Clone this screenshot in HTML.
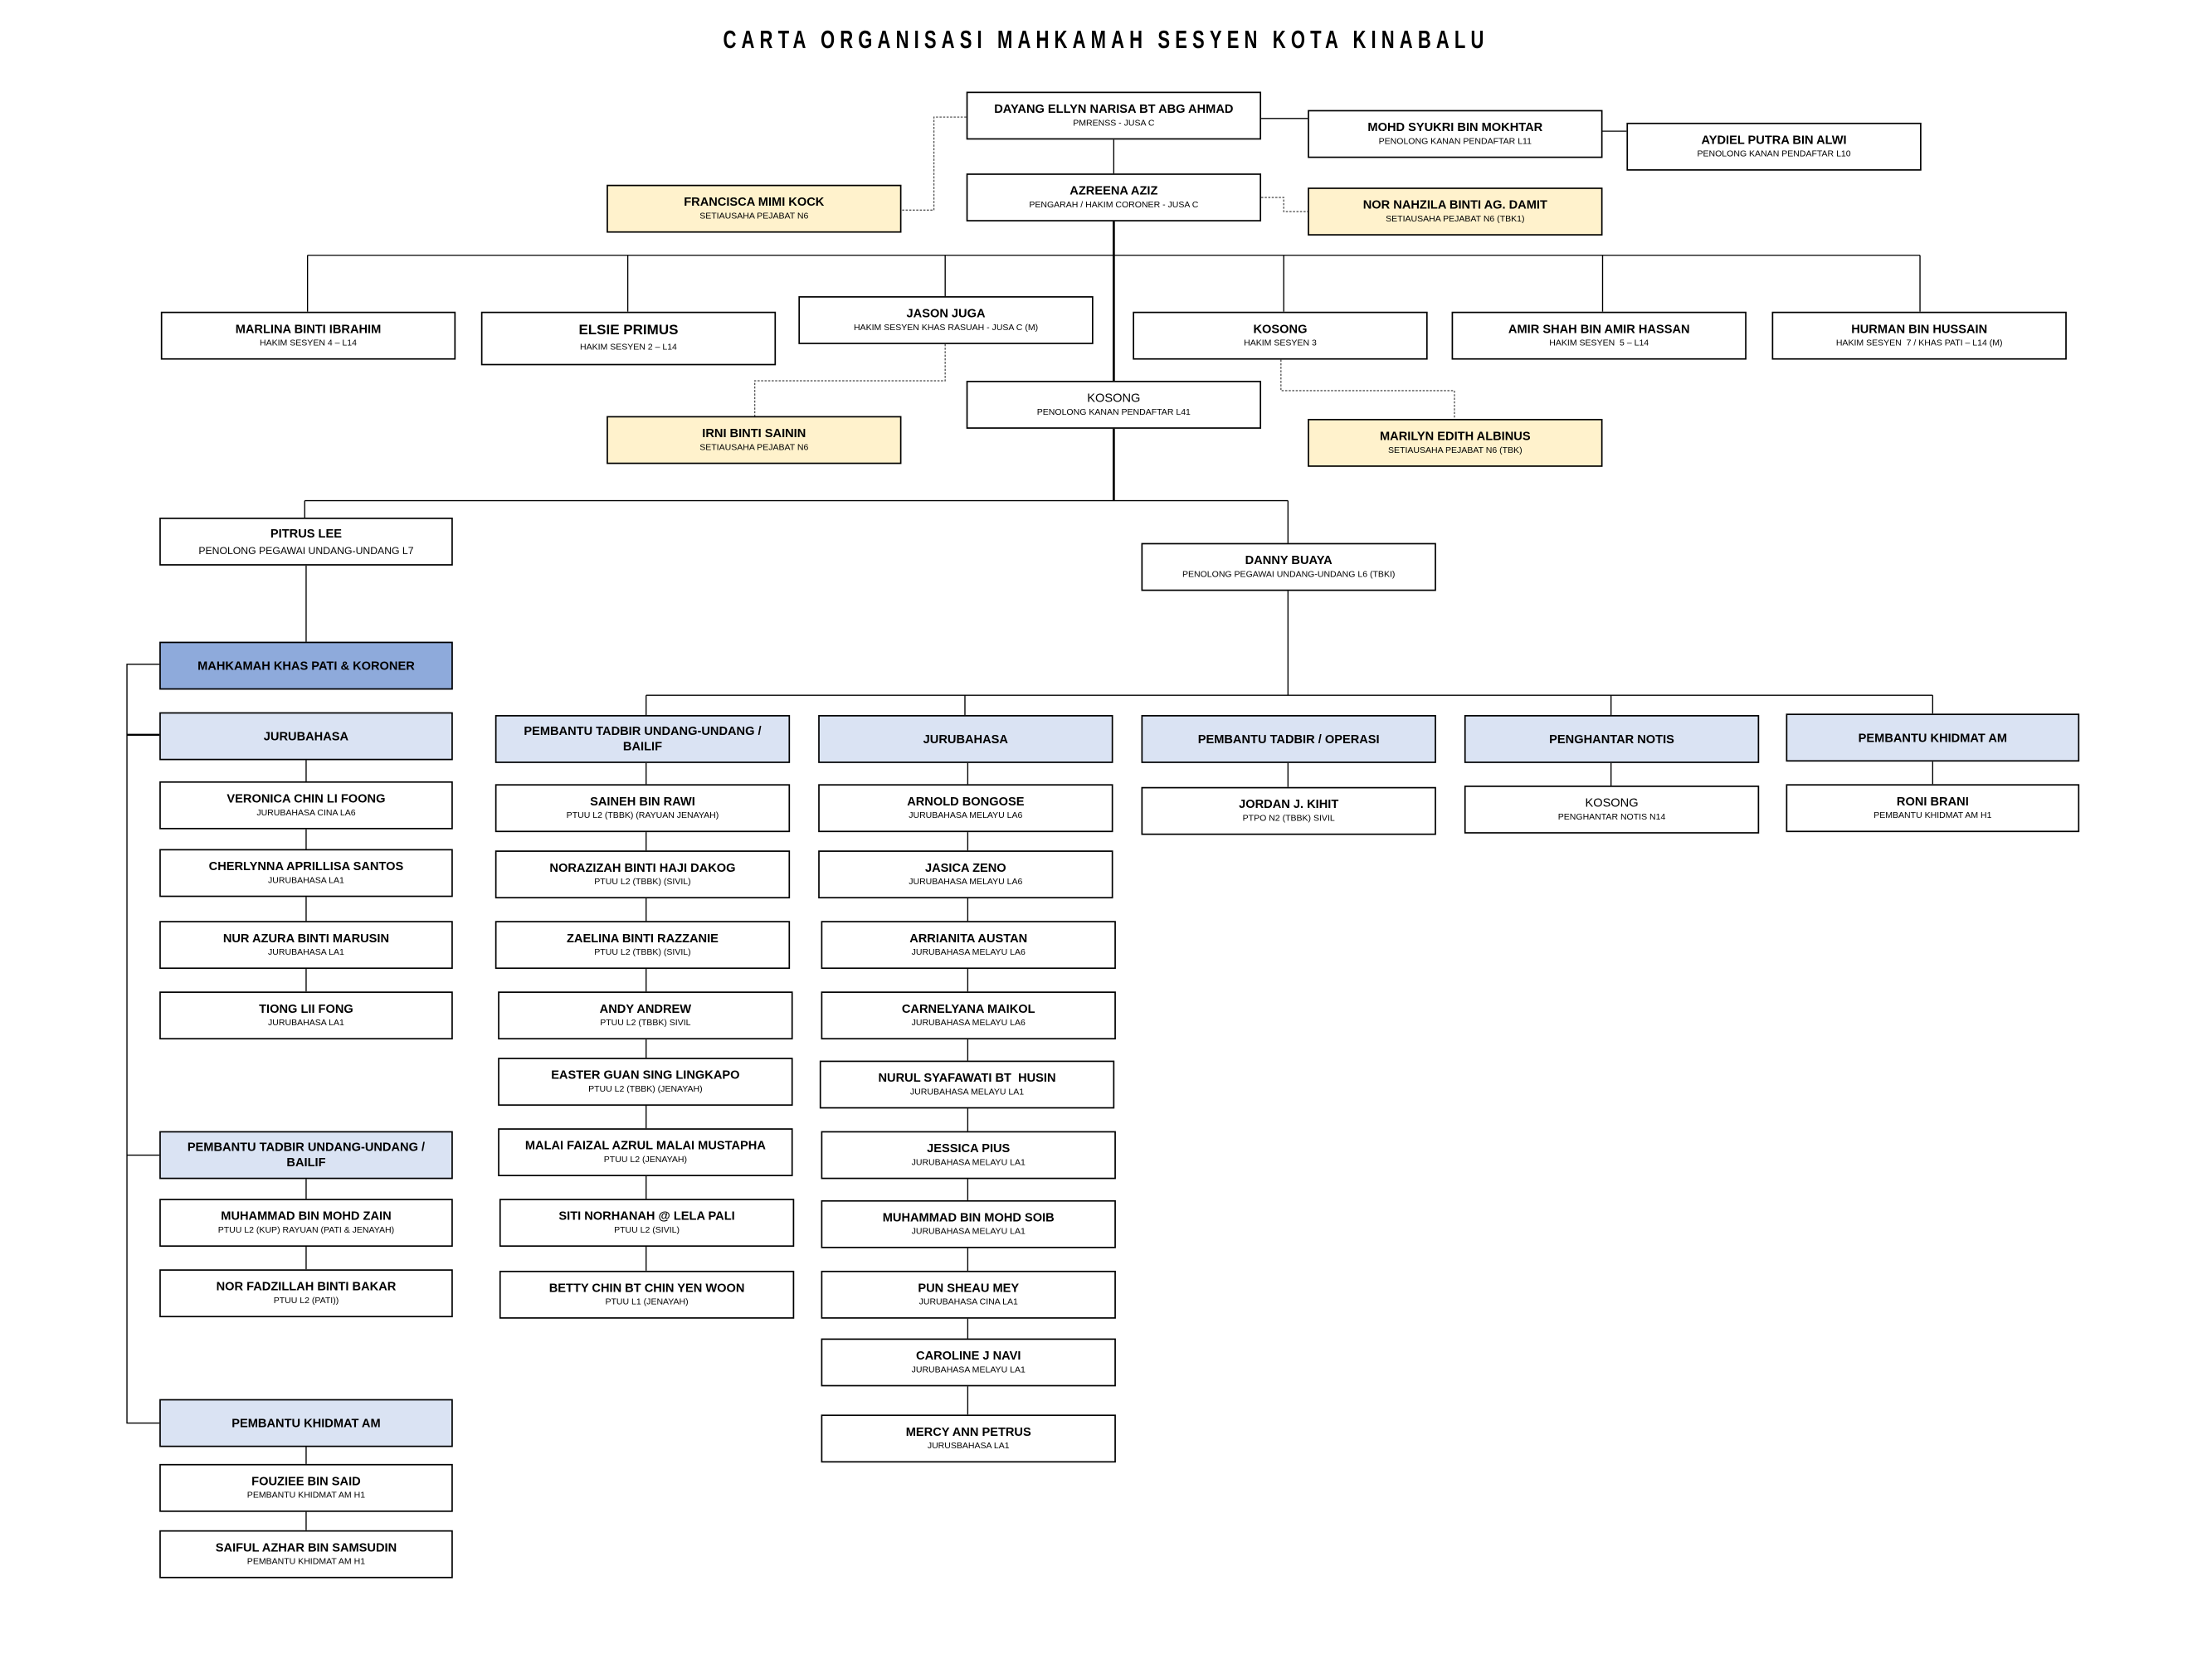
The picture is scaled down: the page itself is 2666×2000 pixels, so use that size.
<!DOCTYPE html>
<html><head><meta charset="utf-8">
<style>
html,body{margin:0;padding:0;background:#fff;}
body{width:2666px;height:2000px;overflow:hidden;position:relative;}
#w{position:absolute;left:0;top:0;width:1568px;height:1176px;transform:scale(1.70026);transform-origin:0 0;font-family:"Liberation Sans Narrow","Liberation Sans",sans-serif;}
.b{position:absolute;border:1px solid #000;box-sizing:border-box;display:flex;flex-direction:column;justify-content:center;align-items:center;text-align:center;background:#fff;line-height:1.25;}
.b b{font-size:8.6px;font-weight:bold;color:#000;}
.b s{text-decoration:none;font-size:6.2px;color:#000;margin-top:2px;}
.y{background:#FFF2CC;}
.h{background:#DAE3F3;}
.d{background:#8EAADB;}
.n{font-weight:normal!important;}
svg{position:absolute;left:0;top:0;}
#t{position:absolute;left:0;width:1568px;top:18px;text-align:center;font-size:18px;font-weight:bold;letter-spacing:5px;}
#t span{display:inline-block;transform:scaleX(0.72);white-space:nowrap;}
</style></head><body><div id="w">
<div id="t"><span>CARTA ORGANISASI MAHKAMAH SESYEN KOTA KINABALU</span></div>
<svg width="1568" height="1176" viewBox="0 0 1568 1176" fill="none" stroke="#000" stroke-width="0.8">
<!-- dashed -->
<g stroke-dasharray="1.5,1" stroke="#555">
<polyline points="685,83 662,83 662,149 639,149"/>
<polyline points="894,140 910,140 910,150 927,150"/>
<polyline points="670,244 670,270 535,270 535,295"/>
<polyline points="908,255 908,277 1031,277 1031,297"/>
</g>
<line x1="894" y1="84" x2="927" y2="84"/>
<line x1="1136" y1="93" x2="1153" y2="93"/>
<line x1="789.5" y1="99" x2="789.5" y2="123"/>
<line x1="789.5" y1="157" x2="789.5" y2="355" stroke-width="1.6"/>
<line x1="218" y1="181" x2="1361" y2="181"/>
<line x1="218" y1="181" x2="218" y2="221"/>
<line x1="445" y1="181" x2="445" y2="221"/>
<line x1="670" y1="181" x2="670" y2="210"/>
<line x1="910" y1="181" x2="910" y2="221"/>
<line x1="1136" y1="181" x2="1136" y2="221"/>
<line x1="1361" y1="181" x2="1361" y2="221"/>
<line x1="216" y1="355" x2="913" y2="355"/>
<line x1="216" y1="355" x2="216" y2="367"/>
<line x1="913" y1="355" x2="913" y2="385"/>
<line x1="217" y1="401" x2="217" y2="455"/>
<polyline points="113,471 90,471 90,1009 113,1009"/>
<line x1="90" y1="521" x2="113" y2="521" stroke-width="1.4"/>
<line x1="90" y1="819" x2="113" y2="819"/>
<line x1="217" y1="539" x2="217" y2="703"/>
<line x1="217" y1="836" x2="217" y2="900"/>
<line x1="217" y1="1026" x2="217" y2="1085"/>
<line x1="913" y1="419" x2="913" y2="493"/>
<line x1="458" y1="493" x2="1370" y2="493"/>
<line x1="458" y1="493" x2="458" y2="507"/>
<line x1="684" y1="493" x2="684" y2="507"/>
<line x1="1142" y1="493" x2="1142" y2="507"/>
<line x1="1370" y1="493" x2="1370" y2="506"/>
<line x1="458" y1="541" x2="458" y2="901"/>
<line x1="686" y1="541" x2="686" y2="1003"/>
<line x1="913" y1="541" x2="913" y2="558"/>
<line x1="1142" y1="541" x2="1142" y2="557"/>
<line x1="1370" y1="540" x2="1370" y2="556"/>
</svg>

<div class="b" style="left:685px;top:65px;width:209px;height:34px"><b>DAYANG ELLYN NARISA BT ABG AHMAD</b><s>PMRENSS - JUSA C</s></div>
<div class="b" style="left:927px;top:78px;width:209px;height:34px"><b>MOHD SYUKRI BIN MOKHTAR</b><s>PENOLONG KANAN PENDAFTAR L11</s></div>
<div class="b" style="left:1153px;top:87px;width:209px;height:34px"><b>AYDIEL PUTRA BIN ALWI</b><s>PENOLONG KANAN PENDAFTAR L10</s></div>
<div class="b" style="left:685px;top:123px;width:209px;height:34px"><b>AZREENA AZIZ</b><s>PENGARAH / HAKIM CORONER - JUSA C</s></div>
<div class="b y" style="left:430px;top:131px;width:209px;height:34px"><b>FRANCISCA MIMI KOCK</b><s>SETIAUSAHA PEJABAT N6</s></div>
<div class="b y" style="left:927px;top:133px;width:209px;height:34px"><b>NOR NAHZILA BINTI AG. DAMIT</b><s>SETIAUSAHA PEJABAT N6 (TBK1)</s></div>

<div class="b" style="left:114px;top:221px;width:209px;height:34px"><b>MARLINA BINTI IBRAHIM</b><s>HAKIM SESYEN 4 – L14</s></div>
<div class="b" style="left:341px;top:221px;width:209px;height:38px"><b style="font-size:10px">ELSIE PRIMUS</b><s>HAKIM SESYEN 2 – L14</s></div>
<div class="b" style="left:566px;top:210px;width:209px;height:34px"><b>JASON JUGA</b><s>HAKIM SESYEN KHAS RASUAH - JUSA C (M)</s></div>
<div class="b" style="left:803px;top:221px;width:209px;height:34px"><b>KOSONG</b><s>HAKIM SESYEN 3</s></div>
<div class="b" style="left:1029px;top:221px;width:209px;height:34px"><b>AMIR SHAH BIN AMIR HASSAN</b><s>HAKIM SESYEN &nbsp;5 – L14</s></div>
<div class="b" style="left:1256px;top:221px;width:209px;height:34px"><b>HURMAN BIN HUSSAIN</b><s>HAKIM SESYEN &nbsp;7 / KHAS PATI – L14 (M)</s></div>

<div class="b" style="left:685px;top:270px;width:209px;height:34px"><b class="n">KOSONG</b><s>PENOLONG KANAN PENDAFTAR L41</s></div>
<div class="b y" style="left:430px;top:295px;width:209px;height:34px"><b>IRNI BINTI SAININ</b><s>SETIAUSAHA PEJABAT N6</s></div>
<div class="b y" style="left:927px;top:297px;width:209px;height:34px"><b>MARILYN EDITH ALBINUS</b><s>SETIAUSAHA PEJABAT N6 (TBK)</s></div>

<div class="b" style="left:113px;top:367px;width:208px;height:34px"><b>PITRUS LEE</b><s style="font-size:7.2px">PENOLONG PEGAWAI UNDANG-UNDANG L7</s></div>
<div class="b" style="left:809px;top:385px;width:209px;height:34px"><b>DANNY BUAYA</b><s>PENOLONG PEGAWAI UNDANG-UNDANG L6 (TBKI)</s></div>

<div class="b d" style="left:113px;top:455px;width:208px;height:34px"><b>MAHKAMAH KHAS PATI &amp; KORONER</b></div>
<div class="b h" style="left:113px;top:505px;width:208px;height:34px"><b>JURUBAHASA</b></div>
<div class="b" style="left:113px;top:554px;width:208px;height:34px"><b>VERONICA CHIN LI FOONG</b><s>JURUBAHASA CINA LA6</s></div>
<div class="b" style="left:113px;top:602px;width:208px;height:34px"><b>CHERLYNNA APRILLISA SANTOS</b><s>JURUBAHASA LA1</s></div>
<div class="b" style="left:113px;top:653px;width:208px;height:34px"><b>NUR AZURA BINTI MARUSIN</b><s>JURUBAHASA LA1</s></div>
<div class="b" style="left:113px;top:703px;width:208px;height:34px"><b>TIONG LII FONG</b><s>JURUBAHASA LA1</s></div>
<div class="b h" style="left:113px;top:802px;width:208px;height:34px"><b>PEMBANTU TADBIR UNDANG-UNDANG /<br>BAILIF</b></div>
<div class="b" style="left:113px;top:850px;width:208px;height:34px"><b>MUHAMMAD BIN MOHD ZAIN</b><s>PTUU L2 (KUP) RAYUAN (PATI &amp; JENAYAH)</s></div>
<div class="b" style="left:113px;top:900px;width:208px;height:34px"><b>NOR FADZILLAH BINTI BAKAR</b><s>PTUU L2 (PATI))</s></div>
<div class="b h" style="left:113px;top:992px;width:208px;height:34px"><b>PEMBANTU KHIDMAT AM</b></div>
<div class="b" style="left:113px;top:1038px;width:208px;height:34px"><b>FOUZIEE BIN SAID</b><s>PEMBANTU KHIDMAT AM H1</s></div>
<div class="b" style="left:113px;top:1085px;width:208px;height:34px"><b>SAIFUL AZHAR BIN SAMSUDIN</b><s>PEMBANTU KHIDMAT AM H1</s></div>

<div class="b h" style="left:351px;top:507px;width:209px;height:34px"><b>PEMBANTU TADBIR UNDANG-UNDANG /<br>BAILIF</b></div>
<div class="b" style="left:351px;top:556px;width:209px;height:34px"><b>SAINEH BIN RAWI</b><s>PTUU L2 (TBBK) (RAYUAN JENAYAH)</s></div>
<div class="b" style="left:351px;top:603px;width:209px;height:34px"><b>NORAZIZAH BINTI HAJI DAKOG</b><s>PTUU L2 (TBBK) (SIVIL)</s></div>
<div class="b" style="left:351px;top:653px;width:209px;height:34px"><b>ZAELINA BINTI RAZZANIE</b><s>PTUU L2 (TBBK) (SIVIL)</s></div>
<div class="b" style="left:353px;top:703px;width:209px;height:34px"><b>ANDY ANDREW</b><s>PTUU L2 (TBBK) SIVIL</s></div>
<div class="b" style="left:353px;top:750px;width:209px;height:34px"><b>EASTER GUAN SING LINGKAPO</b><s>PTUU L2 (TBBK) (JENAYAH)</s></div>
<div class="b" style="left:353px;top:800px;width:209px;height:34px"><b>MALAI FAIZAL AZRUL MALAI MUSTAPHA</b><s>PTUU L2 (JENAYAH)</s></div>
<div class="b" style="left:354px;top:850px;width:209px;height:34px"><b>SITI NORHANAH @ LELA PALI</b><s>PTUU L2 (SIVIL)</s></div>
<div class="b" style="left:354px;top:901px;width:209px;height:34px"><b>BETTY CHIN BT CHIN YEN WOON</b><s>PTUU L1 (JENAYAH)</s></div>

<div class="b h" style="left:580px;top:507px;width:209px;height:34px"><b>JURUBAHASA</b></div>
<div class="b" style="left:580px;top:556px;width:209px;height:34px"><b>ARNOLD BONGOSE</b><s>JURUBAHASA MELAYU LA6</s></div>
<div class="b" style="left:580px;top:603px;width:209px;height:34px"><b>JASICA ZENO</b><s>JURUBAHASA MELAYU LA6</s></div>
<div class="b" style="left:582px;top:653px;width:209px;height:34px"><b>ARRIANITA AUSTAN</b><s>JURUBAHASA MELAYU LA6</s></div>
<div class="b" style="left:582px;top:703px;width:209px;height:34px"><b>CARNELYANA MAIKOL</b><s>JURUBAHASA MELAYU LA6</s></div>
<div class="b" style="left:581px;top:752px;width:209px;height:34px"><b>NURUL SYAFAWATI BT &nbsp;HUSIN</b><s>JURUBAHASA MELAYU LA1</s></div>
<div class="b" style="left:582px;top:802px;width:209px;height:34px"><b>JESSICA PIUS</b><s>JURUBAHASA MELAYU LA1</s></div>
<div class="b" style="left:582px;top:851px;width:209px;height:34px"><b>MUHAMMAD BIN MOHD SOIB</b><s>JURUBAHASA MELAYU LA1</s></div>
<div class="b" style="left:582px;top:901px;width:209px;height:34px"><b>PUN SHEAU MEY</b><s>JURUBAHASA CINA LA1</s></div>
<div class="b" style="left:582px;top:949px;width:209px;height:34px"><b>CAROLINE J NAVI</b><s>JURUBAHASA MELAYU LA1</s></div>
<div class="b" style="left:582px;top:1003px;width:209px;height:34px"><b>MERCY ANN PETRUS</b><s>JURUSBAHASA LA1</s></div>

<div class="b h" style="left:809px;top:507px;width:209px;height:34px"><b>PEMBANTU TADBIR / OPERASI</b></div>
<div class="b" style="left:809px;top:558px;width:209px;height:34px"><b>JORDAN J. KIHIT</b><s>PTPO N2 (TBBK) SIVIL</s></div>
<div class="b h" style="left:1038px;top:507px;width:209px;height:34px"><b>PENGHANTAR NOTIS</b></div>
<div class="b" style="left:1038px;top:557px;width:209px;height:34px"><b class="n">KOSONG</b><s>PENGHANTAR NOTIS N14</s></div>
<div class="b h" style="left:1266px;top:506px;width:208px;height:34px"><b>PEMBANTU KHIDMAT AM</b></div>
<div class="b" style="left:1266px;top:556px;width:208px;height:34px"><b>RONI BRANI</b><s>PEMBANTU KHIDMAT AM H1</s></div>
</div></body></html>
